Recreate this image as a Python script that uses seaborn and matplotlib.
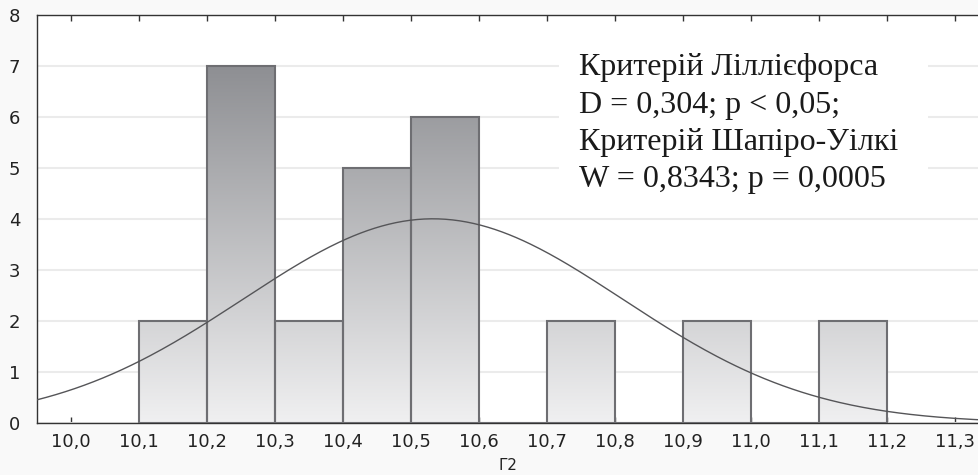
import numpy as np
import pandas as pd
import matplotlib
matplotlib.use("Agg")
import matplotlib.pyplot as plt
import seaborn as sns
from matplotlib.colors import LinearSegmentedColormap
from matplotlib.patches import Rectangle

# ---- data ----
bin_left = [10.1, 10.2, 10.3, 10.4, 10.5, 10.6, 10.7, 10.8, 10.9, 11.0, 11.1]
counts   = [2, 7, 2, 5, 6, 0, 2, 0, 2, 0, 2]
bin_width = 0.1
fit_mean = 10.532
fit_sd = 0.279
xtick_vals = [10.0, 10.1, 10.2, 10.3, 10.4, 10.5, 10.6, 10.7, 10.8, 10.9, 11.0, 11.1, 11.2, 11.3]
xtick_labels = ["10,0", "10,1", "10,2", "10,3", "10,4", "10,5", "10,6",
                "10,7", "10,8", "10,9", "11,0", "11,1", "11,2", "11,3"]
ytick_vals = [0, 1, 2, 3, 4, 5, 6, 7, 8]
x_label = "Г2"
annot_lines = ["Критерій Ліллієфорса",
               "D = 0,304; p < 0,05;",
               "Критерій Шапіро-Уілкі",
               "W = 0,8343; p = 0,0005"]

sns.set_theme(style="white")
plt.rcParams['font.family'] = ['DejaVu Sans']

fig = plt.figure(figsize=(9.79, 4.75), dpi=100, facecolor="#f9f9f9")
ax = fig.add_axes([37/979, 1-423/475, 1-37/979, (423-15)/475])
ax.set_facecolor("white")

mids = [b + bin_width/2 for b in bin_left]
edges = bin_left + [bin_left[-1] + bin_width]
df = pd.DataFrame({"x": mids, "w": counts})
sns.histplot(data=df, x="x", weights="w", bins=edges, ax=ax,
             edgecolor="#6e6e72", linewidth=1.5, facecolor="none", zorder=3)

# gradient fill clipped to each bar
cmap = LinearSegmentedColormap.from_list("g", ["#f0f0f1", "#8e8f93"])
grad = np.linspace(0, 1, 256).reshape(-1, 1)
for p in ax.patches:
    h = p.get_height()
    if h <= 0:
        continue
    x0 = p.get_x(); w = p.get_width()
    im = ax.imshow(grad, cmap=cmap, vmin=0, vmax=1, origin="lower",
                   extent=[x0, x0 + w, 0, 7], aspect="auto", zorder=2,
                   interpolation="bicubic")
    im.set_clip_path(p)

# fitted normal curve
xs = np.linspace(9.95, 11.335, 400)
n = sum(counts)
ys = n * bin_width * np.exp(-0.5 * ((xs - fit_mean) / fit_sd) ** 2) / (fit_sd * np.sqrt(2 * np.pi))
sns.lineplot(x=xs, y=ys, ax=ax, color="#555558", linewidth=1.0, zorder=4)

ax.set_xlim(9.95, 11.335)
ax.set_ylim(0, 8)
ax.set_xticks(xtick_vals)
ax.set_xticklabels(xtick_labels)
ax.set_yticks(ytick_vals)
ax.yaxis.grid(True, color="#ebebeb", linewidth=1.5, zorder=0)
ax.set_axisbelow(True)
ax.tick_params(axis="x", direction="in", length=4, width=1, color="#333333",
               labelsize=13, pad=7, top=True, bottom=True, labelcolor="#222222")
ax.tick_params(axis="y", length=0, labelsize=13, pad=12, labelcolor="#222222")
for s in ["left", "bottom", "top"]:
    ax.spines[s].set_visible(True)
    ax.spines[s].set_color("#333333")
    ax.spines[s].set_linewidth(1.0)
ax.spines["right"].set_visible(False)
ax.set_xlabel(x_label, fontsize=11, labelpad=5, color="#222222")
ax.set_ylabel("")

# white box behind annotation
ax.add_patch(Rectangle((0.554, 0.534), 0.392, 0.44, transform=ax.transAxes,
                       facecolor="white", edgecolor="none", zorder=1))
ys_txt = [0.853, 0.760, 0.669, 0.578]
for t, yy in zip(annot_lines, ys_txt):
    ax.text(0.575, yy, t, transform=ax.transAxes, ha="left", va="baseline",
            fontsize=23, family=["Liberation Serif", "DejaVu Serif"],
            color="#1a1a1a", zorder=5)

fig.savefig("out.png", dpi=100, facecolor=fig.get_facecolor())
